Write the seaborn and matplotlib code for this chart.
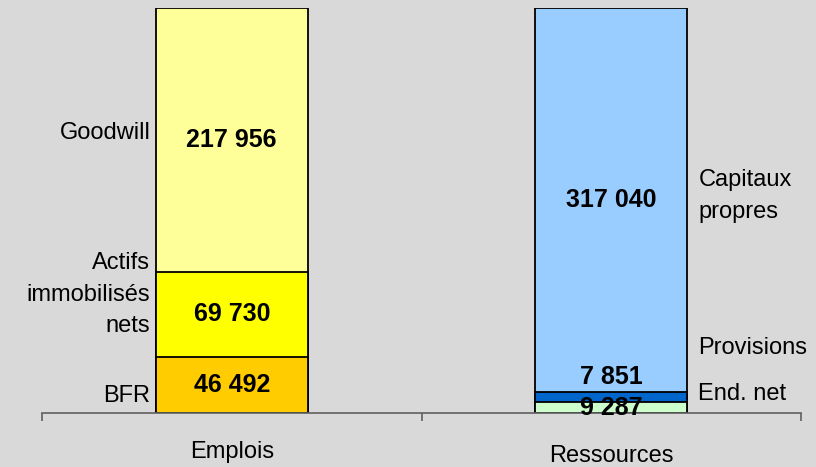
import matplotlib
matplotlib.use("Agg")
import matplotlib.pyplot as plt
import matplotlib.transforms as mtransforms
import seaborn as sns
import numpy as np

categories = ["Emplois", "Ressources"]
emplois_labels = ["BFR", "Actifs\nimmobilisés\nnets", "Goodwill"]
emplois_values = [46492, 69730, 217956]
ressources_labels = ["", "End. net", "Capitaux\npropres"]
ressources_values = [9287, 7851, 317040]
value_texts_emplois = ["46 492", "69 730", "217 956"]
value_texts_ressources = ["9 287", "7 851", "317 040"]
emplois_colors = ["#FFCC00", "#FFFF00", "#FFFF99"]
ressources_colors = ["#CCFFCC", "#0066CC", "#99CCFF"]

sns.set_theme(style="white")
plt.rcParams["font.family"] = ["Liberation Sans", "DejaVu Sans"]

bg = "#D9D9D9"
fig = plt.figure(figsize=(8.16, 4.67), dpi=100, facecolor=bg)
ax = fig.add_axes([42 / 816, 1 - 413 / 467, (801 - 42) / 816, (413 - 8) / 467])
ax.set_facecolor(bg)

cum_e = np.cumsum(emplois_values)
cum_r = np.cumsum(ressources_values)

for i in range(2, -1, -1):
    sns.barplot(x=categories, y=[cum_e[i], cum_r[i]], hue=categories,
                palette=[emplois_colors[i], ressources_colors[i]],
                width=0.4, edgecolor="black", linewidth=1.3,
                legend=False, ax=ax, saturation=1)

ax.set_xlim(-0.5, 1.5)
ax.set_ylim(0, cum_e[-1])
ax.set_yticks([])
ax.set_ylabel("")
ax.set_xlabel("")
for s in ["left", "right", "top"]:
    ax.spines[s].set_visible(False)
ax.spines["bottom"].set_color("#606060")
ax.spines["bottom"].set_linewidth(1.2)

ax.set_xticks([0, 1])
ax.set_xticklabels(categories, fontsize=17, color="black")
ax.tick_params(axis="x", which="major", length=0, pad=20, labelcolor="black")
ax.set_xticks([-0.5, 0.5, 1.5], minor=True)
ax.tick_params(axis="x", which="minor", bottom=True, length=6, width=1.2,
               color="#606060", direction="out")
lbls = ax.get_xticklabels()
lbls[1].set_transform(lbls[1].get_transform() + mtransforms.ScaledTranslation(0, -3 / 72, fig.dpi_scale_trans))

# value labels
bold = dict(fontsize=18, fontweight="bold", ha="center", va="center", color="black")
prev = 0
for v, t in zip(emplois_values, value_texts_emplois):
    ax.text(0, prev + v / 2, t, **bold)
    prev += v
ax.text(1, ressources_values[0] / 2 - 500, value_texts_ressources[0], **bold)
ax.text(1, cum_r[1] + 12500, value_texts_ressources[1], **bold)
ax.text(1, cum_r[1] + ressources_values[2] / 2, value_texts_ressources[2], **bold)

# side labels
side = dict(fontsize=17, color="black", va="center")
off_l = dict(textcoords="offset points", xytext=(-4, 0), ha="right", linespacing=1.55)
ax.annotate("Goodwill", xy=(-0.2, 231000), **off_l, **side)
ax.annotate("Actifs\nimmobilisés\nnets", xy=(-0.2, 97500), **off_l, **side)
ax.annotate("BFR", xy=(-0.2, 14000), **off_l, **side)
off_r = dict(textcoords="offset points", xytext=(8, 0), ha="left", linespacing=1.55)
ax.annotate("Capitaux\npropres", xy=(1.2, 179000), **off_r, **side)
ax.annotate("Provisions", xy=(1.2, 53600), **off_r, **side)
ax.annotate("End. net", xy=(1.2, 15700), **off_r, **side)

fig.savefig("out.png", dpi=100, facecolor=bg)
